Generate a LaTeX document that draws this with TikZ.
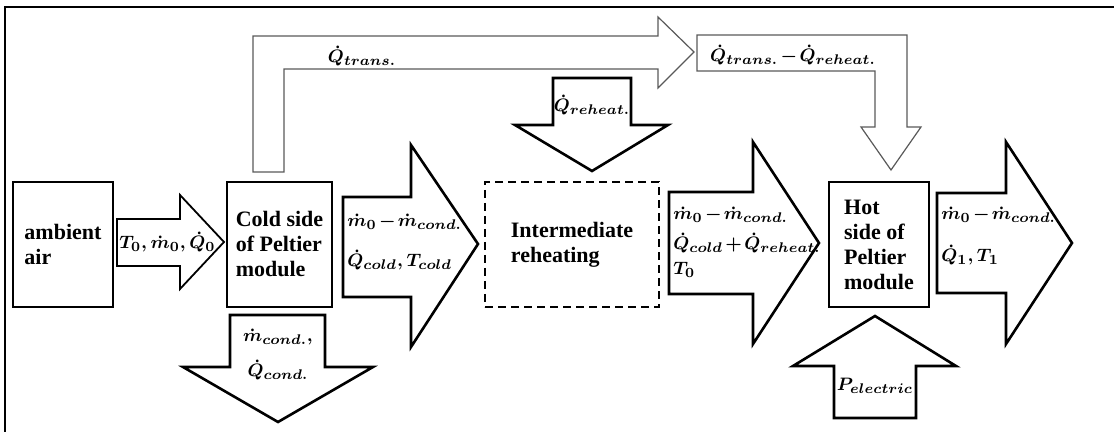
\documentclass[tikz,border=0pt]{standalone}
\usepackage{fontspec}
\setmainfont{Liberation Serif}[BoldFont={Liberation Serif Bold}]
\usepackage{bm}
\newcommand\lblfont{\fontsize{9.5}{11.5}\selectfont\boldmath\medmuskip=2mu\relax}

\begin{document}
\begin{tikzpicture}[x=0.5pt, y=-0.5pt,
    box/.style={draw, line width=0.8pt, minimum height=62.5pt, inner sep=0pt,
      align=left, font=\bfseries\fontsize{11}{12.5}\selectfont},
    flow/.style={draw, line width=1.3pt, line join=miter},
    heat/.style={draw=black!65, line width=0.6pt, line join=miter},
    lbl/.style={anchor=west, inner sep=0pt, font=\lblfont}]
    \useasboundingbox (0,0) rectangle (1114,432);

    % frame
    \draw[line width=1.3pt] (5,432) -- (5,7) -- (1114,7);

    % blocks
    \node[box, minimum width=50pt] (air) at (63,244.5) {ambient\\air};
    \node[box, minimum width=52.5pt] (cold) at (279.5,244.5) {Cold side\\of Peltier\\module};
    \node[box, minimum width=87pt, dash pattern=on 4pt off 2.5pt] (reheat) at (572,244.5) {Intermediate\\reheating};
    \node[box, minimum width=50pt] (hot) at (879,244.5) {Hot\\side of\\Peltier\\module};

    % heat transfer arrows (gray)
    \draw[heat] (253,172) -- (253,36) -- (658,36) -- (658,17) -- (694,52) -- (658,88)
      -- (658,69) -- (284,69) -- (284,172) -- cycle;
    \draw[heat] (697,35) -- (907,35) -- (907,127) -- (921,127) -- (891,170) -- (861,127)
      -- (875,127) -- (875,71) -- (697,71) -- cycle;
    \node[lbl, anchor=center] (q_trans) at (362,56) {$\dot{Q}_{trans.}$};
    \node[lbl, anchor=center] (q_rest) at (793,55) {$\dot{Q}_{trans.} - \dot{Q}_{reheat.}$};

    % mass flow arrows
    \draw[line width=0.9pt, line join=miter] (117,219) -- (180,219) -- (180,195) -- (224,242)
      -- (180,289) -- (180,266) -- (117,266) -- cycle;
    \draw[flow] (343,197) -- (411,197) -- (411,145) -- (478,244) -- (411,347) -- (411,297)
      -- (343,297) -- cycle;
    \draw[flow] (669,192) -- (753,192) -- (753,142) -- (819,243) -- (753,344) -- (753,294)
      -- (669,294) -- cycle;
    \draw[flow] (937,193) -- (1006,193) -- (1006,142) -- (1072,243) -- (1006,344) -- (1006,293)
      -- (937,293) -- cycle;

    % condensate, reheating, electric power
    \draw[flow] (230,315) -- (325,315) -- (325,367) -- (373,367) -- (278,422) -- (183,367)
      -- (230,367) -- cycle;
    \draw[flow] (553,78) -- (631,78) -- (631,125) -- (668,125) -- (592,171) -- (515,125)
      -- (553,125) -- cycle;
    \draw[flow] (875,316) -- (956,366) -- (916,366) -- (916,418) -- (834,418) -- (834,366)
      -- (793,366) -- cycle;

    % labels
    \node[lbl] (l_in) at (119,242) {$T_0{,}\,\dot{m}_0{,}\,\dot{Q}_0$};
    \node[lbl] (l_c1) at (347,222) {$\dot{m}_0 - \dot{m}_{cond.}$};
    \node[lbl] (l_c2) at (347,260) {$\dot{Q}_{cold}{,}\,T_{cold}$};
    \node[lbl] (l_r1) at (673,215) {$\dot{m}_0 - \dot{m}_{cond.}$};
    \node[lbl] (l_r2) at (673,243) {$\dot{Q}_{cold} + \dot{Q}_{reheat.}$};
    \node[lbl] (l_r3) at (673,270) {$T_0$};
    \node[lbl] (l_h1) at (941,215) {$\dot{m}_0 - \dot{m}_{cond.}$};
    \node[lbl] (l_h2) at (941,255) {$\dot{Q}_1{,}\,T_1$};
    \node[lbl, anchor=center] (l_d1) at (278,337) {$\dot{m}_{cond.}{,}$};
    \node[lbl, anchor=center] (l_d2) at (278,370) {$\dot{Q}_{cond.}$};
    \node[lbl, anchor=center] (l_q) at (592,105) {$\dot{Q}_{reheat.}$};
    \node[lbl, anchor=center] (l_p) at (875,386) {$P_{electric}$};

\end{tikzpicture}
\end{document}
